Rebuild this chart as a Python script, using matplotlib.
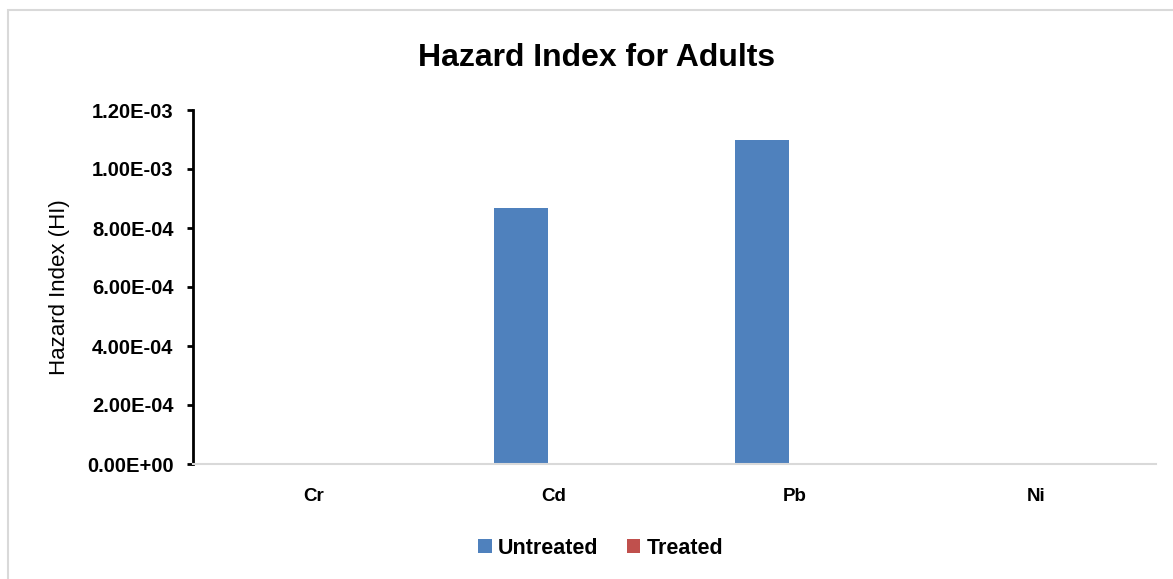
import numpy as np
import matplotlib
matplotlib.use("Agg")
import matplotlib.pyplot as plt
from matplotlib.patches import Rectangle

plt.rcParams['font.family'] = ['Liberation Sans', 'DejaVu Sans']

# data
metals = ["Cr", "Cd", "Pb", "Ni"]
untreated = [0.0, 8.68e-4, 1.10e-3, 0.0]
treated = [0.0, 0.0, 0.0, 0.0]
yticks = [0.0, 2e-4, 4e-4, 6e-4, 8e-4, 1e-3, 1.2e-3]

c_untr = '#4f81bd'
c_treat = '#c0504d'

fig = plt.figure(figsize=(11.73, 5.79), dpi=100)
ax = fig.add_axes([193/1173, 115/579, 963/1173, 354/579])

x = np.arange(len(metals))
w = 0.225
off = 0.025
ax.bar(x - w/2 - off, untreated, w, color=c_untr, label='Untreated')
ax.bar(x + w/2 - off, treated, w, color=c_treat, label='Treated')

ax.set_xlim(-0.5, len(metals) - 0.5)
ax.set_ylim(0, 1.2e-3)
ax.set_yticks(yticks)
ax.set_yticklabels(['{:.2E}'.format(v) for v in yticks], fontweight='bold', fontsize=14.5)
ax.set_xticks(x)
ax.set_xticklabels(metals, fontweight='bold', fontsize=13.5)
ax.tick_params(axis='x', length=0, pad=17)
ax.tick_params(axis='y', length=4, width=2, pad=10, direction='out')

for s in ['top', 'right']:
    ax.spines[s].set_visible(False)
ax.spines['left'].set_linewidth(2)
ax.spines['bottom'].set_color('#d9d9d9')
ax.spines['bottom'].set_linewidth(1.5)

ax.set_ylabel('Hazard Index (HI)', fontsize=16, labelpad=12)

fig.text(0.509, 0.90, 'Hazard Index for Adults', ha='center', va='center',
         fontsize=23, fontweight='bold')

fig.legend(loc='center', bbox_to_anchor=(0.512, 0.0535), ncol=2, frameon=False,
           prop={'weight': 'bold', 'size': 15.5}, handlelength=0.65, handleheight=0.65,
           handletextpad=0.3, columnspacing=1.3)

# chart area border
fig.patches.append(Rectangle((8/1173, -0.1), 1.2, (579-10)/579 + 0.1,
                             transform=fig.transFigure, fill=False,
                             edgecolor='#d9d9d9', linewidth=1.5))

fig.savefig('out.png', dpi=100)
